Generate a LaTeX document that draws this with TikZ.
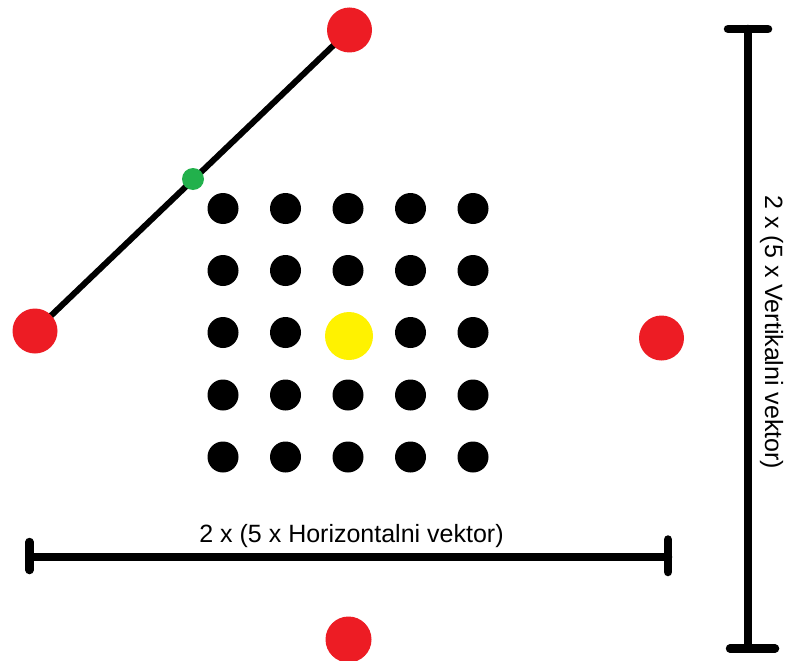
\documentclass[tikz,border=0pt]{standalone}
\usepackage{fontspec}
\setmainfont{Liberation Sans}
\definecolor{pred}{HTML}{ED1C24}
\definecolor{pyellow}{HTML}{FFF200}
\definecolor{pgreen}{HTML}{22B14C}
\begin{document}
\begin{tikzpicture}[x=1pt,y=-1pt,
  dot/.style={circle,fill=black,draw=none,inner sep=0pt,minimum size=31pt},
  reddot/.style={circle,fill=pred,draw=none,inner sep=0pt,minimum size=45pt},
  yeldot/.style={circle,fill=pyellow,draw=none,inner sep=0pt,minimum size=48pt},
  greendot/.style={circle,fill=pgreen,draw=none,inner sep=0pt,minimum size=22pt},
  bar/.style={line width=8.5pt,line cap=round,black},
  diag/.style={line width=6pt,black},
  lbl/.style={font=\fontsize{25}{30}\selectfont,inner sep=0pt,text=black}]
\fill[white] (0,0) rectangle (787,661);
\useasboundingbox (0,0) rectangle (787,661);
% diagonal segment
\coordinate (pA) at (35,331);
\coordinate (pB) at (349.5,30);
\draw[diag] (pA) -- (pB);
\node[reddot] (rleft) at (pA) {};
\node[reddot] (rtop) at (pB) {};
\node[greendot] (gmid) at (193,179) {};
% grid of dots
\foreach \c/\x in {1/223,2/285.5,3/348,4/410.5,5/473}{
  \foreach \r/\y in {1/208.5,2/270.5,3/332.5,4/395,5/457}{
    \node[dot] (b\r\c) at (\x,\y) {};
  }
}
\node[yeldot] (ycenter) at (349,336) {};
% other red dots
\node[reddot] (rright) at (661.5,338) {};
\node[reddot,minimum size=46pt] (rbottom) at (348.5,639.5) {};
% horizontal dimension bar
\coordinate (hl) at (29.5,557);
\coordinate (hr) at (668,557);
\coordinate (hlt) at (29.5,542);
\coordinate (hlb) at (29.5,570);
\coordinate (hrt) at (668,539.5);
\coordinate (hrb) at (668,572);
\draw[bar] (hl) -- (hr);
\draw[bar] (hlt) -- (hlb);
\draw[bar] (hrt) -- (hrb);
\node[lbl,anchor=base] (htext) at (351.5,542) {2 x (5 x Horizontalni vektor)};
% vertical dimension bar
\coordinate (vt) at (748,29);
\coordinate (vb) at (748,648.5);
\coordinate (vtl) at (728,29);
\coordinate (vtr) at (768,29);
\coordinate (vbl) at (730,648.5);
\coordinate (vbr) at (775,648.5);
\draw[bar] (vt) -- (vb);
\draw[bar] (vtl) -- (vtr);
\draw[bar] (vbl) -- (vbr);
\node[lbl,anchor=base,rotate=-90] (vtext) at (765,332.5) {2 x (5 x Vertikalni vektor)};
\end{tikzpicture}
\end{document}
